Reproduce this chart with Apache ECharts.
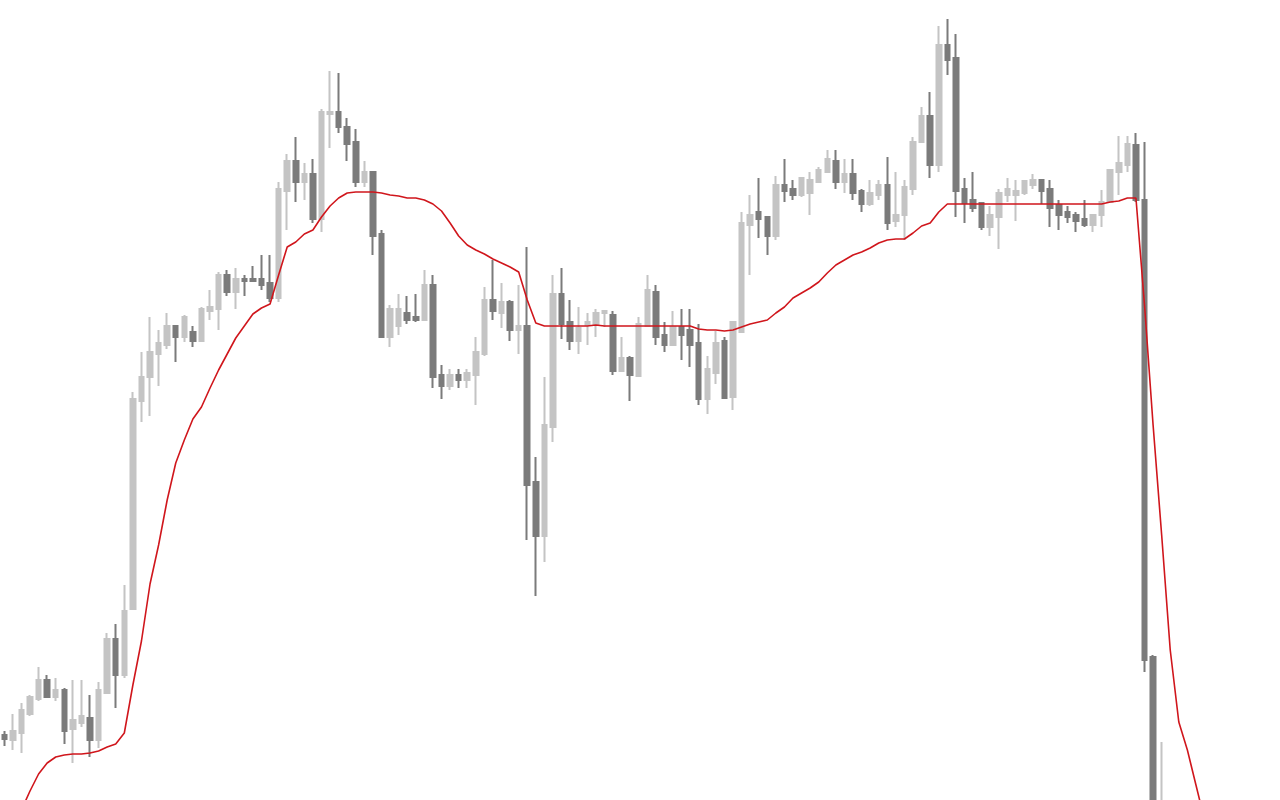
<!DOCTYPE html>
<html>
<head>
<meta charset="utf-8">
<script src="https://cdn.jsdelivr.net/npm/echarts@6/dist/echarts.min.js"></script>
<style>
html,body{margin:0;padding:0;background:#fff;}
#chart{width:1280px;height:800px;}
</style>
</head>
<body>
<div id="chart"></div>
<script>
// Period labels (no axis text is shown in the reference)
const categories = Array.from({length: 149}, (_, i) => String(i + 1));

// Candles: [open, close, low, high]
const candles = [
  [65,61,54,69],[60,69,50,86],[67,90,47,97],[86,103,84,105],[101,120,99,133],
  [120,103,103,125],[103,110,99,122],[110,69,56,112],[71,80,37,120],[77,84,73,120],
  [82,60,43,105],[60,110,52,118],[107,161,107,167],[161,125,92,176],[125,189,122,215],
  [191,401,191,408],[399,423,378,448],[423,448,384,483],[446,457,414,470],[455,474,451,487],
  [474,463,438,474],[463,483,458,485],[468,459,453,474],[459,491,459,493],[489,493,480,510],
  [491,525,470,528],[525,508,504,530],[508,521,491,532],[521,519,504,525],[521,519,519,534],
  [521,515,510,545],[517,502,498,545],[502,611,498,618],[609,639,570,646],[639,618,598,663],
  [618,626,600,637],[626,581,577,641],[581,688,568,691],[686,688,652,729],[688,673,667,727],
  [673,656,639,682],[658,618,613,671],[618,628,613,639],[628,564,545,628],[566,463,463,570],
  [463,491,453,495],[474,491,465,506],[487,480,476,504],[483,480,478,506],[480,515,480,530],
  [515,423,412,525],[425,414,401,435],[414,425,410,431],[425,420,412,431],[420,427,412,431],
  [425,448,395,463],[446,500,444,513],[500,489,480,540],[487,498,472,517],[498,470,459,500],
  [470,474,446,515],[474,315,260,553],[318,264,204,343],[264,375,238,423],[373,506,358,525],
  [506,476,461,532],[478,459,450,500],[459,472,446,493],[475,478,455,487],[475,487,463,491],
  [487,489,473,489],[485,429,425,489],[429,442,429,463],[442,425,399,444],[424,476,423,483],
  [474,510,474,525],[508,463,455,515],[465,455,448,478],[455,473,455,489],[473,465,440,491],
  [470,455,433,491],[457,401,395,476],[401,431,386,444],[427,457,416,469],[459,402,401,463],
  [403,478,390,478],[468,577,468,588],[575,585,525,605],[588,581,562,622],[583,564,545,583],
  [564,615,560,624],[615,609,598,641],[611,605,600,620],[605,622,603,622],[607,620,585,628],
  [618,630,618,633],[628,641,628,650],[639,618,611,650],[618,626,607,641],[626,607,600,641],
  [609,596,588,611],[596,607,594,620],[605,615,600,620],[615,577,570,643],[579,585,573,628],
  [585,613,560,620],[611,658,605,663],[658,684,658,693],[684,635,622,708],[635,755,628,774],
  [755,740,725,781],[742,609,583,766],[611,597,577,622],[600,592,588,628],[597,573,570,598],
  [573,585,564,594],[583,607,551,611],[605,611,598,622],[605,609,579,620],[607,619,605,620],
  [615,620,611,626],[620,609,596,620],[611,592,573,620],[595,585,570,600],[588,583,577,594],
  [585,579,568,588],[581,575,573,600],[575,585,568,585],[585,598,573,610],[598,630,598,630],
  [628,637,605,664],[635,656,628,664],[655,600,598,667],[600,140,128,658],[143,-60,-80,145],
  [-80,-30,-100,58]
];

// Red moving-average style line, one value per period
const avgLine = [
  -55,-32,-10,9,26,37,43,45,46,46,
  47,49,53,56,67,115,159,216,255,300,
  337,360,381,393,412,430,446,462,474,486,
  492,496,525,553,558,566,570,583,594,602,
  607,608,608,608,607,605,604,602,602,600,
  596,589,577,564,555,550,546,541,537,533,
  528,500,477,474,474,474,474,474,474,475,
  474,474,474,474,474,474,474,474,474,474,
  474,471,470,470,469,470,473,476,478,480,
  487,493,502,507,512,518,527,535,540,545,
  548,552,557,560,561,561,567,574,577,588,
  596,596,596,596,596,596,596,596,596,596,
  596,596,596,596,596,596,596,596,596,598,
  599,602,602,495,375,265,150,78,50,15,
  -20
];

const chart = echarts.init(document.getElementById('chart'), null, {renderer: 'canvas'});
chart.setOption({
  animation: false,
  backgroundColor: '#ffffff',
  grid: {left: -1, top: 0, width: 1278.4, height: 800, containLabel: false},
  xAxis: {
    type: 'category', data: categories, boundaryGap: true,
    show: false
  },
  yAxis: {
    type: 'value', min: 0, max: 800, show: false,
    splitLine: {show: false}
  },
  series: [
    {
      type: 'candlestick',
      data: candles,
      barWidth: 5,
      clip: true,
      itemStyle: {
        color: '#c4c4c4', color0: '#7b7b7b',
        borderColor: '#c4c4c4', borderColor0: '#7b7b7b',
        borderWidth: 2
      }
    },
    {
      type: 'line',
      data: avgLine,
      symbol: 'none',
      clip: true,
      z: 3,
      lineStyle: {color: '#d0161c', width: 1.6}
    }
  ]
});
</script>
</body>
</html>
